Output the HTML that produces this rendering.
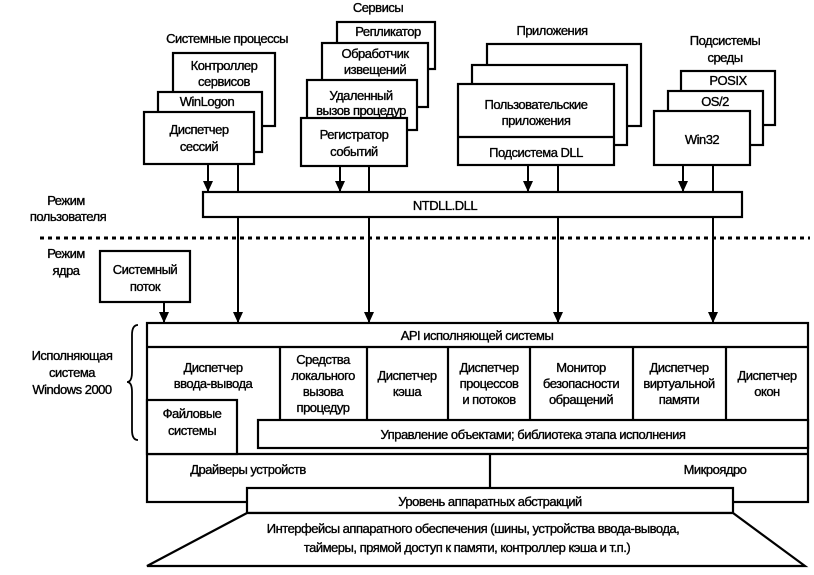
<!DOCTYPE html>
<html><head><meta charset="utf-8"><style>
html,body{margin:0;padding:0;background:#fff;}
svg{display:block;}
text{font-family:"Liberation Sans",Arial,sans-serif;font-size:13px;fill:#000;stroke:#000;stroke-width:0.35px;text-anchor:middle;letter-spacing:-0.5px;}
</style></head><body>
<svg width="814" height="575" viewBox="0 0 814 575" xmlns="http://www.w3.org/2000/svg">
<defs><marker id="a" markerWidth="11" markerHeight="10" refX="10" refY="5" orient="auto" markerUnits="userSpaceOnUse"><path d="M0,0 L11,5 L0,10 Z" fill="#000"/></marker></defs>
<g fill="#fff" stroke="#000" stroke-width="2.2">
<rect x="173" y="53" width="102" height="73"/>
<rect x="158" y="92" width="104" height="60"/>
<rect x="144" y="112" width="110" height="52"/>
<rect x="337" y="22" width="98" height="47"/>
<rect x="322" y="43" width="106" height="64"/>
<rect x="307" y="80" width="110" height="50"/>
<rect x="301" y="118" width="106" height="48"/>
<rect x="487" y="44" width="154" height="82"/>
<rect x="472" y="65" width="155" height="80"/>
<rect x="458" y="84" width="156" height="81"/>
<line x1="458" y1="137" x2="614" y2="137"/>
<rect x="681" y="71" width="94" height="54"/>
<rect x="668" y="91" width="95" height="54"/>
<rect x="654" y="111" width="96" height="54"/>
<rect x="203" y="192" width="539" height="25"/>
<rect x="100" y="251" width="90" height="51"/>
<rect x="147" y="323" width="661" height="179"/>
<line x1="147" y1="347" x2="808" y2="347"/>
<line x1="147" y1="454" x2="808" y2="454"/>
<line x1="280" y1="347" x2="280" y2="420"/>
<line x1="367" y1="347" x2="367" y2="420"/>
<line x1="448" y1="347" x2="448" y2="420"/>
<line x1="530" y1="347" x2="530" y2="420"/>
<line x1="633" y1="347" x2="633" y2="420"/>
<line x1="726" y1="347" x2="726" y2="420"/>
<rect x="147" y="400" width="90" height="54"/>
<rect x="258" y="420" width="550" height="28"/>
<line x1="490" y1="454" x2="490" y2="488"/>
<rect x="247" y="488" width="486" height="25"/>
<path d="M247,513 L733,513 L805,566 L147,566 Z"/>
</g>
<g stroke="#000" stroke-width="2" fill="none">
<line x1="208" y1="164" x2="208" y2="191" marker-end="url(#a)"/>
<line x1="238" y1="164" x2="238" y2="192"/>
<line x1="340" y1="166" x2="340" y2="191" marker-end="url(#a)"/>
<line x1="369" y1="166" x2="369" y2="192"/>
<line x1="528" y1="165" x2="528" y2="191" marker-end="url(#a)"/>
<line x1="558" y1="165" x2="558" y2="192"/>
<line x1="683" y1="165" x2="683" y2="191" marker-end="url(#a)"/>
<line x1="713" y1="165" x2="713" y2="192"/>
<line x1="238" y1="217" x2="238" y2="322" marker-end="url(#a)"/>
<line x1="369" y1="217" x2="369" y2="322" marker-end="url(#a)"/>
<line x1="558" y1="217" x2="558" y2="322" marker-end="url(#a)"/>
<line x1="713" y1="217" x2="713" y2="322" marker-end="url(#a)"/>
<line x1="164" y1="302" x2="164" y2="322" marker-end="url(#a)"/>
<line x1="40" y1="238" x2="810" y2="238" stroke-width="3" stroke-dasharray="4,4"/>
<path d="M138,325 Q132,325 132,335 L132,372 Q132,382 127,382 Q132,382 132,392 L132,430 Q132,440 138,440" stroke-width="1.8"/>
</g>
<text x="227" y="43">Системные процессы</text>
<text x="224" y="70">Контроллер</text><text x="224" y="86">сервисов</text>
<text x="207" y="106">WinLogon</text>
<text x="199" y="134">Диспетчер</text><text x="199" y="151">сессий</text>
<text x="378" y="12">Сервисы</text>
<text x="388" y="36">Репликатор</text>
<text x="375" y="58">Обработчик</text><text x="375" y="74">извещений</text>
<text x="361" y="100">Удаленный</text><text x="361" y="115">вызов процедур</text>
<text x="354" y="139">Регистратор</text><text x="354" y="156">событий</text>
<text x="552" y="35">Приложения</text>
<text x="536" y="109">Пользовательские</text><text x="536" y="125">приложения</text>
<text x="536" y="157">Подсистема DLL</text>
<text x="725" y="45">Подсистемы</text><text x="725" y="62">среды</text>
<text x="728" y="85">POSIX</text>
<text x="715" y="106">OS/2</text>
<text x="702" y="144">Win32</text>
<text x="445" y="210">NTDLL.DLL</text>
<text x="66" y="205">Режим</text><text x="68" y="221">пользователя</text>
<text x="66" y="258">Режим</text><text x="66" y="275">ядра</text>
<text x="145" y="274">Системный</text><text x="145" y="291">поток</text>
<text x="477" y="340">API исполняющей системы</text>
<text x="213" y="372">Диспетчер</text><text x="213" y="388">ввода-вывода</text>
<text x="192" y="418">Файловые</text><text x="192" y="435">системы</text>
<text x="323" y="364">Средства</text><text x="323" y="380">локального</text><text x="323" y="396">вызова</text><text x="323" y="412">процедур</text>
<text x="407" y="380">Диспетчер</text><text x="407" y="396">кэша</text>
<text x="489" y="372">Диспетчер</text><text x="489" y="388">процессов</text><text x="489" y="404">и потоков</text>
<text x="581" y="372">Монитор</text><text x="581" y="388">безопасности</text><text x="581" y="404">обращений</text>
<text x="679" y="372">Диспетчер</text><text x="679" y="388">виртуальной</text><text x="679" y="404">памяти</text>
<text x="767" y="380">Диспетчер</text><text x="767" y="396">окон</text>
<text x="533" y="439">Управление объектами; библиотека этапа исполнения</text>
<text x="248" y="474">Драйверы устройств</text>
<text x="715" y="474">Микроядро</text>
<text x="490" y="506">Уровень аппаратных абстракций</text>
<text x="473" y="533">Интерфейсы аппаратного обеспечения (шины, устройства ввода-вывода,</text>
<text x="467" y="552">таймеры, прямой доступ к памяти, контроллер кэша и т.п.)</text>
<text x="72" y="360">Исполняющая</text><text x="72" y="377">система</text><text x="72" y="394">Windows 2000</text>
</svg>
</body></html>
